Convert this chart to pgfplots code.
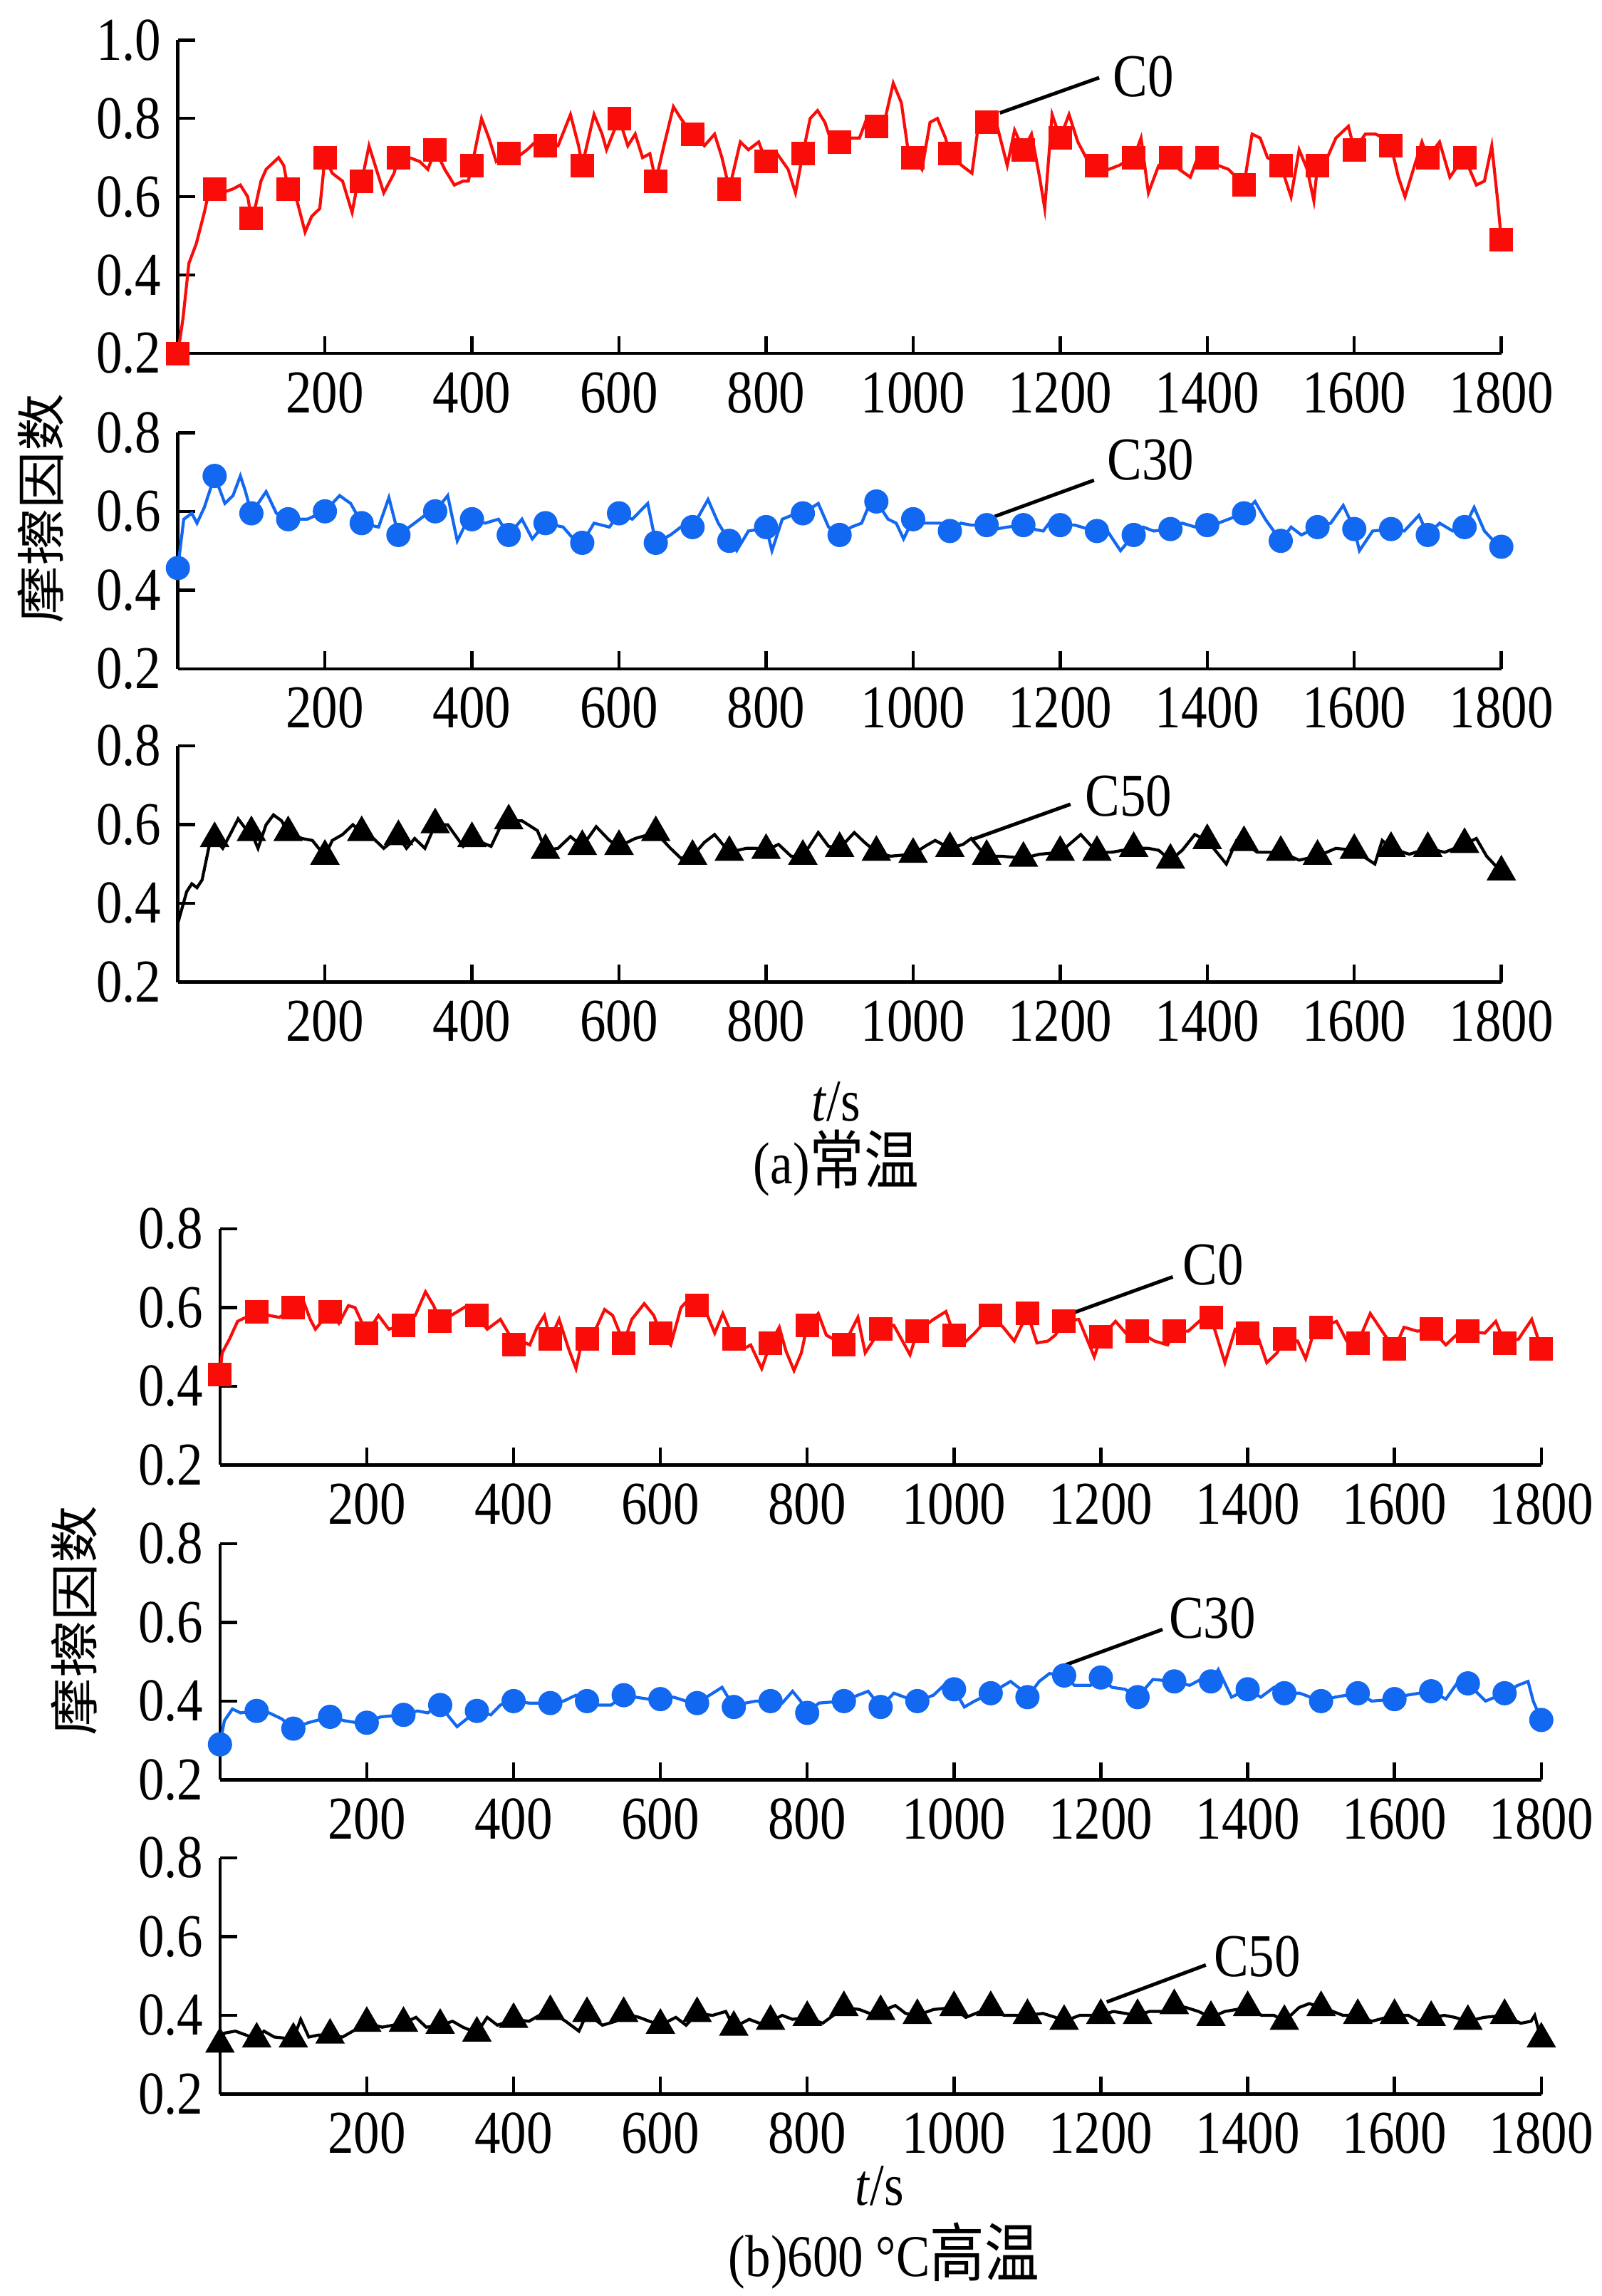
\documentclass[border=0pt]{standalone}
\usepackage{fontspec}
\setmainfont{Liberation Serif}
\newfontfamily\cjk{Noto Sans CJK SC}[Scale=1.08]
\usepackage{graphicx}
\usepackage{pgfplots}
\pgfplotsset{compat=1.18}
\definecolor{cred}{RGB}{250,12,8}
\definecolor{cblue}{RGB}{18,104,240}
\newcommand{\tickfont}{\fontsize{7.3}{8}\selectfont}
\newcommand{\capfont}{\fontsize{7.1}{8}\selectfont}
\newcommand{\st}[1]{\scalebox{1}[1.17]{#1}}
\tikzset{ann/.style={line width=0.5pt, black}}
\pgfplotsset{
  panel/.style={
    scale only axis, anchor=south west, clip=false,
    xmin=0, xmax=1800, ymin=0.2,
    axis x line=bottom, axis y line=left,
    axis line style={-, line width=0.45pt, black},
    tick align=inside, major tick length=2.45pt,
    tick style={black, line width=0.45pt},
    xtick={200,400,600,800,1000,1200,1400,1600,1800},
    xticklabels={\st{200},\st{400},\st{600},\st{800},\st{1000},\st{1200},\st{1400},\st{1600},\st{1800}},
    ticklabel style={font=\tickfont},
    xticklabel style={yshift=0.9pt},
    yticklabel style={xshift=1.2pt},
    /pgf/number format/assume math mode=true,
  },
  short/.style={ymax=0.8, height=33.15pt, ytick={0.2,0.4,0.6,0.8}, yticklabels={\st{0.2},\st{0.4},\st{0.6},\st{0.8}}},
  ln/.style={mark=none, line width=0.42pt},
  sq/.style={only marks, mark=square*, mark size=1.45pt, cred},
  ci/.style={only marks, mark=*, mark size=1.5pt, cblue},
  tr/.style={only marks, mark=triangle*, mark size=2pt, black},
}
\begin{document}
\begin{tikzpicture}
\path[use as bounding box] (0,0) rectangle (224.9pt,322.3pt);
% ---------------- (a) C0 ----------------
\begin{axis}[panel, at={(24.97pt,272.68pt)}, width=185.8pt, height=44.0pt, ymax=1.0,
  ytick={0.2,0.4,0.6,0.8,1.0}, yticklabels={\st{0.2},\st{0.4},\st{0.6},\st{0.8},\st{1.0}}]
\addplot[ln, cred] coordinates {(0,0.20)(7,0.29)(15,0.43)(25,0.48)(36,0.56)(43,0.62)(50,0.62)(60,0.61)(75,0.62)(85,0.63)(95,0.60)(100,0.545)(106,0.58)(113,0.64)(120,0.67)(137,0.70)(144,0.68)(150,0.62)(162,0.59)(173,0.51)(182,0.55)(193,0.57)(200,0.70)(210,0.66)(224,0.64)(237,0.56)(243,0.62)(250,0.64)(260,0.73)(270,0.67)(280,0.61)(294,0.66)(300,0.70)(315,0.70)(329,0.69)(340,0.67)(350,0.72)(363,0.67)(376,0.63)(388,0.64)(395,0.64)(400,0.68)(413,0.80)(423,0.75)(433,0.69)(450,0.71)(461,0.70)(475,0.72)(486,0.74)(500,0.73)(517,0.73)(534,0.81)(545,0.73)(550,0.68)(566,0.81)(577,0.76)(583,0.72)(600,0.80)(612,0.73)(622,0.76)(632,0.70)(642,0.71)(650,0.64)(661,0.73)(674,0.83)(684,0.80)(700,0.76)(716,0.73)(730,0.76)(740,0.70)(750,0.62)(765,0.74)(776,0.72)(790,0.74)(800,0.69)(815,0.71)(830,0.67)(840,0.61)(850,0.71)(860,0.80)(870,0.82)(880,0.79)(887,0.75)(900,0.74)(916,0.75)(927,0.75)(937,0.80)(950,0.78)(962,0.80)(973,0.89)(984,0.84)(993,0.72)(1000,0.70)(1012,0.67)(1023,0.79)(1033,0.80)(1044,0.75)(1050,0.71)(1066,0.68)(1080,0.66)(1090,0.80)(1100,0.79)(1113,0.79)(1128,0.68)(1138,0.77)(1150,0.72)(1161,0.76)(1172,0.65)(1179,0.57)(1189,0.81)(1200,0.75)(1212,0.81)(1224,0.74)(1238,0.69)(1250,0.68)(1266,0.67)(1280,0.68)(1300,0.70)(1310,0.75)(1320,0.61)(1334,0.68)(1350,0.70)(1362,0.67)(1377,0.65)(1387,0.70)(1400,0.70)(1415,0.68)(1429,0.67)(1450,0.63)(1461,0.76)(1472,0.75)(1482,0.70)(1500,0.68)(1514,0.60)(1525,0.72)(1536,0.67)(1545,0.59)(1550,0.68)(1561,0.69)(1575,0.75)(1592,0.78)(1600,0.72)(1615,0.76)(1629,0.76)(1640,0.75)(1650,0.73)(1660,0.65)(1669,0.60)(1682,0.68)(1692,0.74)(1700,0.70)(1716,0.74)(1730,0.65)(1741,0.68)(1750,0.70)(1766,0.63)(1777,0.64)(1787,0.73)(1795,0.59)(1800,0.49)};
\addplot[sq] coordinates {(0,0.20)(50,0.62)(100,0.545)(150,0.62)(200,0.70)(250,0.64)(300,0.70)(350,0.72)(400,0.68)(450,0.71)(500,0.73)(550,0.68)(600,0.80)(650,0.64)(700,0.76)(750,0.62)(800,0.69)(850,0.71)(900,0.74)(950,0.78)(1000,0.70)(1050,0.71)(1100,0.79)(1150,0.72)(1200,0.75)(1250,0.68)(1300,0.70)(1350,0.70)(1400,0.70)(1450,0.63)(1500,0.68)(1550,0.68)(1600,0.72)(1650,0.73)(1700,0.70)(1750,0.70)(1800,0.49)};
\draw[ann] (axis cs:1118,0.814) -- (axis cs:1253,0.904);
\node[anchor=west, font=\tickfont, inner sep=0pt] at (axis cs:1270,0.906) {\st{C0}};
\end{axis}
% ---------------- (a) C30 ----------------
\begin{axis}[panel, short, at={(24.97pt,228.42pt)}, width=185.8pt]
\addplot[ln, cblue] coordinates {(0,0.456)(8,0.58)(19,0.595)(26,0.57)(36,0.61)(50,0.69)(64,0.62)(75,0.64)(85,0.69)(92,0.65)(100,0.595)(120,0.65)(134,0.595)(150,0.58)(176,0.58)(200,0.60)(220,0.64)(235,0.62)(250,0.57)(273,0.56)(287,0.635)(300,0.54)(322,0.57)(336,0.59)(350,0.60)(367,0.64)(380,0.525)(392,0.57)(400,0.58)(418,0.57)(436,0.58)(450,0.54)(468,0.58)(482,0.53)(500,0.57)(524,0.56)(538,0.53)(550,0.52)(566,0.57)(587,0.56)(600,0.595)(618,0.58)(639,0.62)(650,0.52)(670,0.54)(684,0.56)(700,0.56)(721,0.63)(735,0.57)(750,0.525)(760,0.50)(776,0.55)(793,0.555)(800,0.56)(808,0.50)(822,0.58)(835,0.59)(850,0.595)(871,0.62)(885,0.56)(900,0.54)(916,0.56)(930,0.57)(941,0.62)(950,0.625)(966,0.58)(977,0.57)(987,0.53)(1000,0.58)(1015,0.57)(1037,0.57)(1050,0.55)(1065,0.57)(1079,0.565)(1100,0.565)(1113,0.555)(1128,0.56)(1150,0.565)(1163,0.555)(1177,0.55)(1189,0.58)(1200,0.565)(1220,0.565)(1238,0.555)(1250,0.55)(1266,0.545)(1282,0.50)(1291,0.52)(1300,0.54)(1313,0.56)(1327,0.55)(1350,0.555)(1366,0.57)(1384,0.56)(1400,0.565)(1415,0.57)(1429,0.58)(1450,0.595)(1465,0.625)(1479,0.58)(1500,0.525)(1514,0.56)(1528,0.54)(1550,0.56)(1568,0.57)(1585,0.615)(1600,0.555)(1607,0.50)(1625,0.55)(1650,0.555)(1668,0.55)(1688,0.59)(1700,0.54)(1716,0.57)(1734,0.55)(1750,0.56)(1763,0.61)(1777,0.55)(1787,0.53)(1800,0.51)};
\addplot[ci] coordinates {(0,0.456)(50,0.69)(100,0.595)(150,0.58)(200,0.60)(250,0.57)(300,0.54)(350,0.60)(400,0.58)(450,0.54)(500,0.57)(550,0.52)(600,0.595)(650,0.52)(700,0.56)(750,0.525)(800,0.56)(850,0.595)(900,0.54)(950,0.625)(1000,0.58)(1050,0.55)(1100,0.565)(1150,0.565)(1200,0.565)(1250,0.55)(1300,0.54)(1350,0.555)(1400,0.565)(1450,0.595)(1500,0.525)(1550,0.56)(1600,0.555)(1650,0.555)(1700,0.54)(1750,0.56)(1800,0.51)};
\draw[ann] (axis cs:1111,0.587) -- (axis cs:1246,0.679);
\node[anchor=west, font=\tickfont, inner sep=0pt] at (axis cs:1262,0.731) {\st{C30}};
\end{axis}
% ---------------- (a) C50 ----------------
\begin{axis}[panel, short, at={(24.97pt,184.43pt)}, width=185.8pt]
\addplot[ln, black] coordinates {(0,0.35)(12,0.43)(19,0.45)(26,0.44)(33,0.46)(43,0.55)(50,0.565)(61,0.54)(71,0.575)(82,0.615)(92,0.59)(100,0.58)(109,0.54)(120,0.60)(130,0.625)(141,0.61)(150,0.58)(169,0.565)(183,0.56)(200,0.52)(210,0.56)(224,0.575)(238,0.60)(250,0.58)(266,0.565)(280,0.54)(300,0.57)(311,0.54)(322,0.565)(336,0.54)(350,0.60)(367,0.60)(388,0.545)(400,0.565)(426,0.545)(440,0.60)(450,0.61)(468,0.61)(489,0.585)(500,0.535)(517,0.54)(534,0.57)(550,0.545)(569,0.595)(587,0.56)(600,0.545)(622,0.565)(650,0.58)(670,0.54)(684,0.515)(700,0.52)(716,0.555)(730,0.575)(750,0.53)(773,0.54)(787,0.54)(800,0.535)(817,0.55)(834,0.52)(850,0.52)(871,0.58)(885,0.545)(900,0.54)(920,0.58)(934,0.555)(950,0.53)(969,0.52)(1000,0.525)(1016,0.545)(1030,0.56)(1050,0.54)(1068,0.55)(1079,0.565)(1090,0.54)(1100,0.52)(1120,0.52)(1150,0.515)(1172,0.525)(1200,0.53)(1228,0.575)(1250,0.53)(1270,0.53)(1300,0.54)(1320,0.54)(1334,0.535)(1350,0.51)(1366,0.535)(1383,0.575)(1400,0.56)(1426,0.50)(1440,0.56)(1450,0.555)(1468,0.53)(1500,0.53)(1525,0.51)(1550,0.52)(1575,0.54)(1600,0.535)(1628,0.50)(1638,0.56)(1650,0.54)(1675,0.525)(1700,0.54)(1723,0.53)(1750,0.55)(1766,0.565)(1780,0.52)(1800,0.48)};
\addplot[tr] coordinates {(50,0.565)(100,0.58)(150,0.58)(200,0.52)(250,0.58)(300,0.57)(350,0.60)(400,0.565)(450,0.61)(500,0.535)(550,0.545)(600,0.545)(650,0.58)(700,0.52)(750,0.53)(800,0.535)(850,0.52)(900,0.54)(950,0.53)(1000,0.525)(1050,0.54)(1100,0.52)(1150,0.515)(1200,0.53)(1250,0.53)(1300,0.54)(1350,0.51)(1400,0.56)(1450,0.555)(1500,0.53)(1550,0.52)(1600,0.535)(1650,0.54)(1700,0.54)(1750,0.55)(1800,0.48)};
\draw[ann] (axis cs:1081,0.563) -- (axis cs:1214,0.652);
\node[anchor=west, font=\tickfont, inner sep=0pt] at (axis cs:1232,0.672) {\st{C50}};
\end{axis}
% ---------------- (b) C0 ----------------
\begin{axis}[panel, short, at={(30.88pt,116.65pt)}, width=185.5pt]
\addplot[ln, cred] coordinates {(0,0.43)(3,0.485)(13,0.52)(24,0.565)(35,0.575)(50,0.59)(67,0.58)(81,0.575)(100,0.60)(113,0.62)(123,0.57)(130,0.545)(141,0.57)(150,0.59)(162,0.56)(175,0.605)(184,0.60)(200,0.535)(216,0.58)(230,0.545)(250,0.555)(266,0.58)(280,0.64)(291,0.605)(300,0.565)(315,0.58)(337,0.605)(350,0.58)(364,0.545)(382,0.57)(393,0.535)(400,0.505)(411,0.515)(422,0.505)(432,0.55)(442,0.58)(450,0.52)(462,0.57)(475,0.495)(485,0.445)(492,0.505)(500,0.52)(513,0.55)(524,0.595)(535,0.58)(550,0.51)(561,0.57)(578,0.61)(591,0.58)(600,0.535)(614,0.505)(628,0.60)(638,0.62)(650,0.605)(663,0.585)(674,0.535)(685,0.585)(700,0.52)(713,0.495)(723,0.505)(738,0.445)(750,0.51)(762,0.55)(771,0.49)(782,0.44)(792,0.485)(800,0.555)(815,0.585)(826,0.53)(850,0.505)(869,0.575)(879,0.485)(900,0.545)(918,0.555)(940,0.48)(950,0.54)(972,0.57)(989,0.59)(1000,0.53)(1014,0.51)(1028,0.535)(1050,0.58)(1067,0.55)(1082,0.515)(1100,0.585)(1113,0.51)(1128,0.515)(1138,0.53)(1150,0.565)(1170,0.57)(1191,0.475)(1200,0.525)(1220,0.565)(1234,0.535)(1250,0.54)(1273,0.515)(1291,0.505)(1300,0.54)(1319,0.54)(1337,0.57)(1350,0.575)(1369,0.46)(1383,0.545)(1400,0.535)(1415,0.52)(1426,0.46)(1440,0.485)(1450,0.52)(1468,0.515)(1479,0.47)(1489,0.53)(1500,0.55)(1521,0.565)(1535,0.515)(1550,0.51)(1567,0.585)(1585,0.535)(1600,0.495)(1613,0.55)(1631,0.54)(1650,0.545)(1670,0.505)(1684,0.53)(1700,0.54)(1723,0.535)(1738,0.565)(1750,0.51)(1769,0.52)(1787,0.57)(1794,0.53)(1800,0.495)};
\addplot[sq] coordinates {(0,0.43)(50,0.59)(100,0.60)(150,0.59)(200,0.535)(250,0.555)(300,0.565)(350,0.58)(400,0.505)(450,0.52)(500,0.52)(550,0.51)(600,0.535)(650,0.605)(700,0.52)(750,0.51)(800,0.555)(850,0.505)(900,0.545)(950,0.54)(1000,0.53)(1050,0.58)(1100,0.585)(1150,0.565)(1200,0.525)(1250,0.54)(1300,0.54)(1350,0.575)(1400,0.535)(1450,0.52)(1500,0.55)(1550,0.51)(1600,0.495)(1650,0.545)(1700,0.54)(1750,0.51)(1800,0.495)};
\draw[ann] (axis cs:1163,0.587) -- (axis cs:1298,0.678);
\node[anchor=west, font=\tickfont, inner sep=0pt] at (axis cs:1310,0.708) {\st{C0}};
\end{axis}
% ---------------- (b) C30 ----------------
\begin{axis}[panel, short, at={(30.88pt,72.46pt)}, width=185.5pt]
\addplot[ln, cblue] coordinates {(0,0.29)(6,0.35)(17,0.38)(28,0.37)(50,0.375)(67,0.37)(84,0.355)(100,0.33)(120,0.345)(150,0.36)(170,0.35)(187,0.345)(200,0.345)(219,0.36)(250,0.365)(269,0.375)(283,0.37)(300,0.39)(312,0.36)(323,0.335)(333,0.35)(350,0.375)(369,0.365)(382,0.39)(400,0.40)(421,0.395)(450,0.395)(468,0.40)(485,0.415)(500,0.40)(516,0.39)(533,0.39)(550,0.415)(566,0.41)(584,0.405)(600,0.405)(618,0.41)(635,0.40)(650,0.395)(667,0.415)(684,0.435)(700,0.385)(716,0.395)(730,0.40)(750,0.40)(766,0.395)(780,0.425)(791,0.40)(800,0.37)(816,0.395)(850,0.40)(869,0.415)(883,0.425)(900,0.385)(918,0.42)(940,0.405)(950,0.40)(972,0.415)(989,0.445)(1000,0.43)(1014,0.385)(1028,0.40)(1050,0.42)(1077,0.45)(1091,0.43)(1100,0.41)(1116,0.45)(1130,0.47)(1150,0.465)(1164,0.44)(1186,0.44)(1200,0.46)(1215,0.435)(1233,0.43)(1250,0.41)(1271,0.455)(1300,0.45)(1321,0.44)(1336,0.455)(1350,0.45)(1360,0.48)(1378,0.41)(1400,0.43)(1418,0.41)(1436,0.435)(1450,0.42)(1471,0.42)(1500,0.40)(1519,0.41)(1550,0.42)(1569,0.40)(1600,0.405)(1617,0.415)(1650,0.425)(1670,0.405)(1687,0.45)(1700,0.445)(1724,0.40)(1750,0.42)(1768,0.44)(1782,0.45)(1789,0.40)(1800,0.352)};
\addplot[ci] coordinates {(0,0.29)(50,0.375)(100,0.33)(150,0.36)(200,0.345)(250,0.365)(300,0.39)(350,0.375)(400,0.40)(450,0.395)(500,0.40)(550,0.415)(600,0.405)(650,0.395)(700,0.385)(750,0.40)(800,0.37)(850,0.40)(900,0.385)(950,0.40)(1000,0.43)(1050,0.42)(1100,0.41)(1150,0.465)(1200,0.46)(1250,0.41)(1300,0.45)(1350,0.45)(1400,0.43)(1450,0.42)(1500,0.40)(1550,0.42)(1600,0.405)(1650,0.425)(1700,0.445)(1750,0.42)(1800,0.352)};
\draw[ann] (axis cs:1149,0.49) -- (axis cs:1284,0.582);
\node[anchor=west, font=\tickfont, inner sep=0pt] at (axis cs:1291,0.611) {\st{C30}};
\end{axis}
% ---------------- (b) C50 ----------------
\begin{axis}[panel, short, at={(30.88pt,28.34pt)}, width=185.5pt]
\addplot[ln, black] coordinates {(0,0.327)(6,0.355)(21,0.36)(50,0.34)(60,0.36)(74,0.345)(100,0.34)(110,0.39)(121,0.345)(134,0.35)(150,0.35)(167,0.345)(181,0.36)(200,0.38)(221,0.37)(250,0.38)(267,0.395)(281,0.37)(300,0.375)(317,0.385)(331,0.37)(350,0.355)(364,0.395)(378,0.375)(400,0.39)(421,0.385)(435,0.40)(450,0.41)(471,0.385)(489,0.36)(500,0.405)(521,0.375)(539,0.385)(550,0.405)(571,0.395)(585,0.385)(600,0.375)(621,0.395)(635,0.375)(650,0.405)(671,0.40)(689,0.41)(700,0.37)(721,0.39)(735,0.38)(750,0.385)(766,0.40)(780,0.39)(800,0.395)(821,0.38)(850,0.42)(871,0.415)(885,0.405)(900,0.41)(920,0.425)(934,0.405)(950,0.40)(972,0.415)(1000,0.42)(1016,0.395)(1050,0.42)(1068,0.40)(1082,0.40)(1100,0.40)(1121,0.405)(1138,0.395)(1150,0.385)(1171,0.40)(1200,0.40)(1217,0.41)(1250,0.40)(1266,0.41)(1284,0.41)(1300,0.425)(1316,0.42)(1333,0.41)(1350,0.395)(1369,0.41)(1400,0.42)(1419,0.40)(1436,0.40)(1450,0.385)(1470,0.42)(1484,0.43)(1500,0.42)(1516,0.41)(1530,0.40)(1550,0.40)(1569,0.385)(1600,0.40)(1619,0.40)(1633,0.385)(1650,0.395)(1668,0.40)(1682,0.395)(1700,0.385)(1722,0.395)(1750,0.40)(1772,0.38)(1786,0.385)(1791,0.40)(1796,0.365)(1800,0.34)};
\addplot[tr] coordinates {(0,0.327)(50,0.34)(100,0.34)(150,0.35)(200,0.38)(250,0.38)(300,0.375)(350,0.355)(400,0.39)(450,0.41)(500,0.405)(550,0.405)(600,0.375)(650,0.405)(700,0.37)(750,0.385)(800,0.395)(850,0.42)(900,0.41)(950,0.40)(1000,0.42)(1050,0.42)(1100,0.40)(1150,0.385)(1200,0.40)(1250,0.40)(1300,0.425)(1350,0.395)(1400,0.42)(1450,0.385)(1500,0.42)(1550,0.40)(1600,0.40)(1650,0.395)(1700,0.385)(1750,0.40)(1800,0.34)};
\draw[ann] (axis cs:1208,0.434) -- (axis cs:1343,0.528);
\node[anchor=west, font=\tickfont, inner sep=0pt] at (axis cs:1352,0.55) {\st{C50}};
\end{axis}
% ---------------- labels ----------------
\node[rotate=90, font=\fontsize{6.4}{7}\selectfont\cjk, inner sep=0pt] at (5.74pt,250.9pt) {\scalebox{1.17}[1]{摩擦因数}};
\node[rotate=90, font=\fontsize{6.4}{7}\selectfont\cjk, inner sep=0pt] at (10.4pt,94.8pt) {\scalebox{1.17}[1]{摩擦因数}};
\node[font=\capfont, inner sep=0pt] at (117.4pt,167.6pt) {\st{\textit{t}/s}};
\node[font=\capfont, inner sep=0pt] at (117.4pt,159.0pt) {\st{(a){\cjk 常温}}};
\node[font=\capfont, inner sep=0pt] at (123.5pt,15.4pt) {\st{\textit{t}/s}};
\node[font=\capfont, inner sep=0pt] at (124.1pt,5.6pt) {\st{(b)600 °C{\cjk 高温}}};
\end{tikzpicture}
\end{document}
